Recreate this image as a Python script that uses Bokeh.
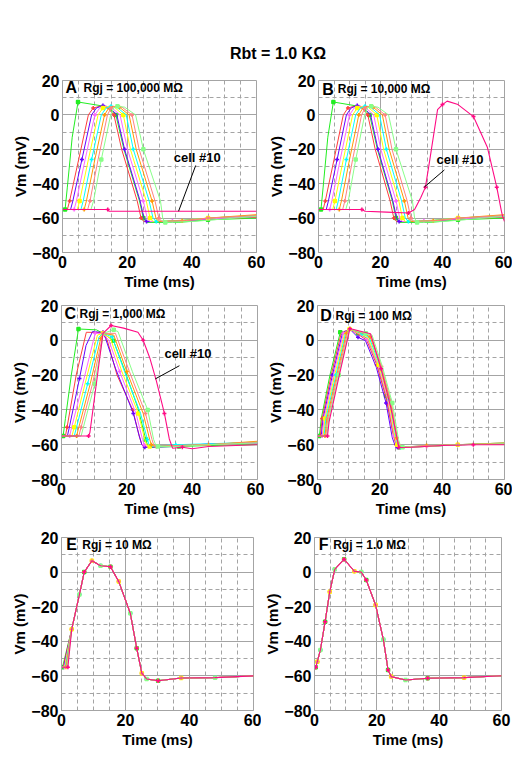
from bokeh.plotting import figure
from bokeh.layouts import column, row
from bokeh.models import Div, Label, Arrow, FixedTicker, Range1d
from bokeh.embed import file_html
from bokeh.resources import INLINE

FONT = "Liberation Sans"
GRID = "#a4a4a4"

TITLE = "Rbt = 1.0 K\u03a9"
RGJ_LABELS = ["Rgj = 100,000 M\u03a9", "Rgj = 10,000 M\u03a9", "Rgj = 1,000 M\u03a9",
              "Rgj = 100 M\u03a9", "Rgj = 10 M\u03a9", "Rgj = 1.0 M\u03a9"]
LETTERS = ["A", "B", "C", "D", "E", "F"]

X_TICKS = [0, 20, 40, 60]
X_MINOR = [5, 10, 15, 25, 30, 35, 45, 50, 55]
Y_TICKS = [-80, -60, -40, -20, 0, 20]
Y_MINOR = [-70, -50, -30, -10, 10]

CELL_COLORS = ["#22ee22", "#ff3c3c", "#6600ff", "#ff66ff", "#ffff00",
               "#00ffff", "#ff9900", "#ff8080", "#88ff88", "#ff0a84"]
CELL_MARKERS = ["square", "cross", "cross", "cross", "square",
                "cross", "cross", "cross", "square", "cross"]

# ---- Panel A: Rgj = 100,000 MOhm (cell 1..10), (time ms, Vm mV) ----
PANEL_A = [
    [(0,-55),(0.8,-55),(1.5,-42),(3,-13),(4.8,7.5),(13,5),(14.5,3.5),(16.5,0),(19,-20),(23.8,-50),(25,-60),(26,-62.5),(36,-62.5),(45,-61),(60,-60)],
    [(0,-55),(1.5,-55),(2.2,-50),(5,-26),(8,0),(9.5,4),(11.5,5),(14,4),(15.9,0),(18.3,-20),(23.1,-50),(24.3,-60),(25.2,-62),(32,-62),(45,-60.5),(60,-59.5)],
    [(0,-55),(2.5,-55),(3.2,-50),(6,-26),(9,0),(10.5,4),(12.5,5.5),(14.5,4.5),(16.8,0),(19.2,-20),(24,-50),(25.2,-60),(26,-62),(33,-62),(45,-60.5),(60,-59)],
    [(0,-55),(3.6,-55),(4.3,-50),(7,-26),(10,0),(11.5,4),(13.5,5),(15,4.5),(17.8,0),(20.1,-20),(25,-50),(26.2,-60),(27,-62),(34,-61.5),(45,-60.5),(60,-59)],
    [(0,-55),(4.6,-55),(5.3,-50),(8,-26),(11,0),(12.5,4),(14.3,5),(16,4.5),(18.8,0),(21,-20),(25.9,-50),(27.1,-60),(28,-62),(35,-61.5),(45,-60),(60,-58.5)],
    [(0,-55),(5.7,-55),(6.4,-50),(9,-26),(12,0),(13.5,4),(15,5),(16.8,4.5),(19.7,0),(21.9,-20),(26.8,-50),(28,-60),(29,-62),(36,-61.5),(45,-60),(60,-58.5)],
    [(0,-55),(6.7,-55),(7.4,-50),(10,-26),(13,0),(14.3,4),(15.7,5),(17.6,4.5),(20.6,0),(22.8,-20),(27.7,-50),(28.9,-60),(29.8,-62),(37,-61.5),(45,-60),(60,-58)],
    [(0,-55),(7.8,-55),(8.5,-50),(11,-26),(13.9,0),(15,4),(16.3,5),(18.4,4.5),(21.5,0),(23.7,-20),(28.6,-50),(29.8,-60),(30.7,-62),(38,-61.5),(45,-60),(60,-58.5)],
    [(0,-55),(8.8,-55),(9.6,-50),(12,-26),(14.9,0),(15.8,4),(17,5),(19.2,4.5),(22.6,0),(25,-20),(30.3,-50),(31,-60),(31.8,-62.5),(40,-62),(60,-59)],
    [(0,-55),(14,-55),(14.4,-56),(60,-56)],
]

# ---- Panel B: Rgj = 10,000 MOhm (cells 1-9 as in A; cell 10 fires late) ----
PANEL_B_CELL10 = [(0,-55),(14,-55),(15,-56),(22,-56.5),(29,-57),(31,-55),(33,-48),(34.5,-42),(36,-25),
                  (38.4,3),(40,6),(41.5,8),(45,6),(50,-1),(51,-5),(54.5,-19),(57.5,-42),(59,-56),(59.4,-59),(60,-62)]
PANEL_B = PANEL_A[:9] + [PANEL_B_CELL10]

# ---- Panel C: Rgj = 1,000 MOhm ----
PANEL_C = [
    [(0,-55),(0.5,-55),(1.2,-45),(3,-20),(5.2,6.5),(10.7,6),(12.7,4),(15.9,-0.2),(19.5,-18),(23.4,-39),(25.8,-57),(26.3,-60),(27.2,-61.5),(36,-61),(45,-60.5),(60,-60)],
    [(0,-55),(1.2,-55),(1.7,-50),(4.5,-20),(7.6,4.6),(12.7,4.5),(14,0),(17,-20),(21.8,-40),(23.8,-55),(24.6,-60),(25.5,-61),(35,-61),(45,-60),(60,-59)],
    [(0,-55),(1.8,-55),(2.4,-50),(5.5,-22),(7.5,-3),(9.5,5),(12.7,4.5),(13.5,1),(16.5,-16),(22,-42),(23.8,-55),(24.6,-60),(25.5,-61.5),(35,-61),(45,-59.5),(60,-59)],
    [(0,-55),(2.5,-55),(3.1,-50),(6.5,-25),(10.3,4),(12.7,4),(14.5,0),(17.8,-18),(22.8,-42),(24.8,-57),(25.3,-60),(26,-61),(35,-60.5),(45,-60),(60,-59)],
    [(0,-55),(3.2,-55),(3.9,-50),(7.2,-25),(11,3),(12.7,4),(15,1),(18.5,-18),(23.5,-42),(25.5,-57),(26,-60),(27,-61),(35,-60.5),(45,-60),(60,-58.5)],
    [(0,-55),(3.9,-55),(4.6,-50),(8,-25),(11.5,2),(12.7,4),(15.5,2),(19.3,-18),(24.2,-42),(26.3,-57),(26.8,-60),(27.8,-61),(35,-60),(45,-59.5),(60,-58.5)],
    [(0,-55),(4.6,-55),(5.3,-50),(8.8,-25),(12,1),(12.7,4),(16,3),(20,-18),(25,-42),(27,-57),(27.5,-60),(28.5,-61),(35,-60.5),(45,-60),(60,-58)],
    [(0,-55),(5.3,-55),(6,-50),(9.5,-25),(12.3,0),(12.7,4),(16.5,4),(20.8,-18),(25.7,-42),(27.7,-57),(28.2,-60),(29,-61),(35,-60.5),(45,-60),(60,-58.5)],
    [(0,-55),(6,-55),(6.7,-50),(10.2,-25),(12.5,0),(12.7,4),(16,6),(17.3,5),(21.7,-18),(26.4,-40),(28.2,-57),(28.8,-60),(29.5,-61),(36,-61),(45,-60),(60,-59)],
    [(0,-55),(8.3,-55),(8.7,-53),(12.7,4),(15.2,8.5),(19,7),(23.4,4.6),(25,0),(27,-10),(29,-23),(31.5,-42),(33,-56.7),(34,-62),(37,-61.5),(40,-62.3),(45,-61),(60,-60)],
]

# ---- Panel D: Rgj = 100 MOhm ----
PANEL_D = [
    [(0,-55),(0.6,-55),(1.2,-45),(4,-20),(7.3,4.6),(9.5,5.5),(10.3,6.5),(13,4),(16,1),(19,-13),(22,-32),(24.5,-55),(25.3,-60),(26.2,-61.5),(35,-61),(45,-60),(60,-59.5)],
    [(0,-55),(0.9,-55),(1.5,-45),(4.4,-20),(7.6,4),(10.3,6.5),(13,3.5),(15.8,0),(19,-14),(22,-33),(24.4,-55),(25.2,-60),(26,-61.5),(35,-61),(45,-60),(60,-59.5)],
    [(0,-55),(1.2,-55),(1.8,-45),(4.8,-20),(8,4),(10.3,6.5),(13,1.7),(15.4,-0.2),(18.9,-15.7),(22,-36),(24,-56),(24.8,-60),(25.6,-61.5),(35,-61),(45,-60),(60,-59.5)],
    [(0,-55),(1.5,-55),(2.1,-45),(5.1,-20),(8.3,4),(10.3,6.5),(13.5,3.5),(16,0.5),(19.3,-14),(22.5,-34),(24.6,-55),(25.4,-60),(26.2,-61.5),(35,-61),(45,-60),(60,-59)],
    [(0,-55),(1.8,-55),(2.4,-45),(5.5,-20),(8.7,4),(10.3,6.5),(14,3.5),(16.3,1),(19.6,-14),(22.8,-34),(24.8,-55),(25.6,-60),(26.4,-61.5),(35,-61),(45,-60),(60,-59)],
    [(0,-55),(2.1,-55),(2.7,-45),(5.9,-20),(9,4),(10.4,6.5),(14.3,3.8),(16.6,1.5),(19.9,-14),(23.1,-34),(25.1,-55),(25.8,-60),(26.6,-61.5),(35,-60.5),(45,-60),(60,-59)],
    [(0,-55),(2.4,-55),(3,-45),(6.2,-20),(9.3,4),(10.4,6.5),(14.6,4),(16.9,2),(20.2,-14),(23.4,-35),(25.4,-56),(26,-60),(26.8,-61.5),(35,-60.5),(45,-60),(60,-59)],
    [(0,-55),(2.7,-55),(3.3,-45),(6.5,-20),(9.6,4),(10.4,6.5),(15,4),(17.2,2.5),(20.5,-15),(23.7,-36),(25.7,-57),(26.2,-60),(27,-61.5),(35,-60.5),(45,-60),(60,-59.5)],
    [(0,-55),(3,-55),(3.6,-45),(6.8,-20),(10,4.5),(10.5,6.5),(15.5,4),(17.5,3),(20.8,-15),(24,-36),(26,-57),(26.5,-60),(27.3,-61.5),(35,-61),(45,-60),(60,-59.5)],
    [(0,-55),(3.2,-55),(3.7,-47),(7,-20),(10.4,6.7),(11,6.5),(17,3.8),(20.4,-16.4),(23.5,-38.6),(25.5,-56),(26.1,-61.6),(30,-61.5),(40,-60.5),(50,-60),(60,-60)],
]

# ---- Panel E: Rgj = 10 MOhm (cells differ only at the foot) ----
E_ONSETS = [0.3, 0.5, 0.7, 0.9, 1.0, 1.2, 1.4, 1.6, 1.8, 2.0]
E_TAIL = [(3.2,-33),(5.6,-13),(7.1,0),(9.5,6.6),(12.2,3.7),(15.3,3.1),(17.9,-5.5),(21.5,-23.8),(23.5,-44),
          (25.1,-58.4),(26.6,-61.8),(30.2,-62.8),(37.4,-61.2),(48,-61),(60,-60)]
PANEL_E = [[(0,-55),(t0,-55)] + E_TAIL for t0 in E_ONSETS]

# ---- Panel F: Rgj = 1.0 MOhm (cells coincide) ----
F_CURVE = [(0,-55),(0.4,-55),(0.9,-51.8),(1.9,-45),(3.4,-28.7),(4.9,-11.3),(6.5,1.6),(9.5,7.4),(12.8,0.5),(15,0),
           (16.6,-4.6),(19.6,-19),(22.1,-39),(23.6,-56.6),(24.6,-60.4),(29.2,-62.4),(36.3,-61.4),(48,-61),(60,-59.9)]
PANEL_F = [F_CURVE for _ in range(10)]


def make_panel(cells, idx, w, h, bl, br, bt, bb, letter_xy, rgj_xy, note=None):
    p = figure(width=w, height=h, x_range=Range1d(0, 60), y_range=Range1d(-80, 20),
               output_backend="svg", toolbar_location=None,
               min_border_left=bl, min_border_right=br, min_border_top=bt, min_border_bottom=bb,
               background_fill_color="white", border_fill_color="white")
    p.outline_line_color = GRID
    p.xaxis.ticker = FixedTicker(ticks=X_TICKS, minor_ticks=X_MINOR)
    p.yaxis.ticker = FixedTicker(ticks=Y_TICKS, minor_ticks=Y_MINOR)
    for g in (p.xgrid, p.ygrid):
        g.grid_line_color = GRID
        g.grid_line_width = 1
        g.minor_grid_line_color = GRID
        g.minor_grid_line_dash = "4 3"
    p.xaxis.axis_label = "Time (ms)"
    p.yaxis.axis_label = "Vm (mV)"
    for ax in (p.xaxis, p.yaxis):
        ax.axis_line_color = GRID
        ax.major_tick_line_color = None
        ax.minor_tick_line_color = None
        ax.major_tick_out = 0
        ax.major_tick_in = 0
        ax.minor_tick_out = 0
        ax.minor_tick_in = 0
        ax.major_label_text_font = FONT
        ax.major_label_text_font_style = "bold"
        ax.major_label_text_font_size = "16px"
        ax.major_label_text_color = "black"
        ax.axis_label_text_font = FONT
        ax.axis_label_text_font_style = "bold"
        ax.axis_label_text_font_size = "15px"
        ax.axis_label_text_color = "black"
    p.xaxis.major_label_standoff = 3
    p.xaxis.axis_label_standoff = 2
    p.yaxis.major_label_standoff = 3
    p.yaxis.axis_label_standoff = 0

    for k, pts in enumerate(cells):
        xs = [q[0] for q in pts]
        ys = [q[1] for q in pts]
        p.line(xs, ys, line_color=CELL_COLORS[k], line_width=1.1 if k == 9 else 1)
        sel = list(range(1 + k % 3, len(pts) - 1, 3))
        p.scatter([xs[i] for i in sel], [ys[i] for i in sel], marker=CELL_MARKERS[k],
                  size=3 if CELL_MARKERS[k] == "square" else 4,
                  line_color=CELL_COLORS[k], fill_color=CELL_COLORS[k], line_width=1.5)

    p.add_layout(Label(x=letter_xy[0], y=letter_xy[1], text=LETTERS[idx], text_font=FONT,
                       text_font_style="bold", text_font_size="16px", text_baseline="middle",
                       text_color="black"))
    p.add_layout(Label(x=rgj_xy[0], y=rgj_xy[1], text=RGJ_LABELS[idx], text_font=FONT,
                       text_font_style="bold", text_font_size="12px", text_baseline="middle",
                       text_color="black"))
    if note is not None:
        (tx, ty), (x0, y0), (x1, y1) = note
        p.add_layout(Label(x=tx, y=ty, text="cell #10", text_font=FONT, text_font_style="bold",
                           text_font_size="13px", text_baseline="middle", text_color="black"))
        p.add_layout(Arrow(end=None, x_start=x0, y_start=y0, x_end=x1, y_end=y1,
                           line_color="black", line_width=1))
    return p


pA = make_panel(PANEL_A, 0, 257, 228, 54, 9, 15, 41, (0.9, 15.9), (6.5, 15.9),
                note=((34.4, -24.8), (41.2, -29.4), (35.9, -56)))
pB = make_panel(PANEL_B, 1, 247, 228, 45, 8, 15, 41, (1.2, 14.8), (6.2, 14.8),
                note=((38.1, -25.7), (40.6, -32), (34.1, -42)))
pC = make_panel(PANEL_C, 2, 256, 229, 52, 7, 12, 43, (0.9, 15.4), (5.5, 15.4),
                note=((31.5, -7.5), (36.1, -14.6), (28.7, -22.2)))
pD = make_panel(PANEL_D, 3, 248, 229, 43, 8, 12, 43, (0.9, 14.2), (5.8, 14.2))
pE = make_panel(PANEL_E, 4, 253, 236, 51, 8, 15, 48, (1.5, 15.7), (6.5, 15.7))
pF = make_panel(PANEL_F, 5, 251, 236, 42, 11, 15, 48, (1.4, 15.7), (6.0, 15.7))

title = Div(text='<div style="margin-left:222px;padding-top:35px;font-family:\'Liberation Sans\';'
                 'font-weight:bold;font-size:16px;white-space:nowrap;color:black">' + TITLE + '</div>',
            width=504, height=57, margin=(0, 0, 0, 0))

layout = column(title, row(pA, pB), row(pC, pD), row(pE, pF), margin=(8, 0, 0, 8))

open("out.html", "w").write(file_html(layout, INLINE))
